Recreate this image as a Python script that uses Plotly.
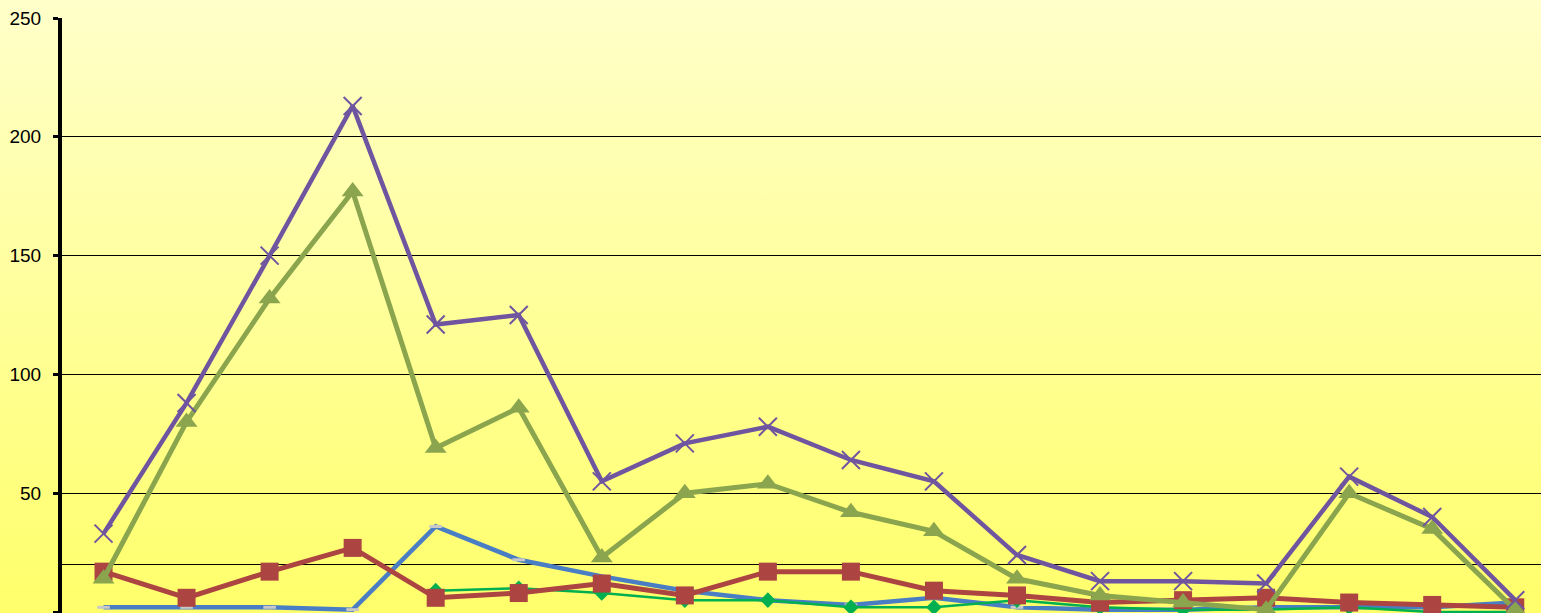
import base64
import plotly.graph_objects as go

categories = list(range(18))
blue = [2, 2, 2, 1, 36, 22, 15, 9, 5, 3, 6, 2, 1, 1, 2, 2, 2, 4]
red = [17, 6, 17, 27, 6, 8, 12, 7, 17, 17, 9, 7, 4, 5, 6, 4, 3, 2]
green = [14, 80, 132, 177, 69, 86, 23, 50, 54, 42, 34, 14, 7, 4, 1, 50, 35, 1]
purple = [33, 88, 150, 213, 121, 125, 55, 71, 78, 64, 55, 24, 13, 13, 12, 57, 40, 5]
dgreen = [None, None, None, None, 9, 10, 8, 5, 5, 2, 2, 5, 2, 1, 1, 2, 0, 0]
y_ticks = [0, 50, 100, 150, 200, 250]
ref_level = 20

svg = ('<svg xmlns="http://www.w3.org/2000/svg" width="100" height="100" preserveAspectRatio="none">'
       '<defs><linearGradient id="g" x1="0" y1="0" x2="0" y2="1">'
       '<stop offset="0" stop-color="#FFFFCC"/><stop offset="1" stop-color="#FFFF66"/>'
       '</linearGradient></defs><rect width="100" height="100" fill="url(#g)"/></svg>')
uri = "data:image/svg+xml;base64," + base64.b64encode(svg.encode()).decode()

fig = go.Figure()
fig.add_trace(go.Scatter(x=categories, y=blue, mode="lines+markers",
                         line=dict(color="#4A7EC4", width=4.5),
                         marker=dict(symbol="line-ew", size=9, line=dict(color="#C8C8C8", width=3))))
fig.add_trace(go.Scatter(x=categories, y=dgreen, mode="lines+markers",
                         line=dict(color="#00B050", width=2.5),
                         marker=dict(symbol="diamond", size=12, color="#00B050")))
fig.add_trace(go.Scatter(x=categories, y=red, mode="lines+markers",
                         line=dict(color="#AC4442", width=5),
                         marker=dict(symbol="square", size=18, color="#AC4442")))
fig.add_trace(go.Scatter(x=categories, y=green, mode="lines+markers",
                         line=dict(color="#8AA54E", width=5),
                         marker=dict(symbol="triangle-up", size=19, color="#8AA54E")))
fig.add_trace(go.Scatter(x=categories, y=purple, mode="lines+markers",
                         line=dict(color="#6F559F", width=4.5),
                         marker=dict(symbol="x-thin", size=18, line=dict(color="#6F559F", width=2))))

fig.add_shape(type="line", xref="paper", x0=0, x1=1, yref="y", y0=ref_level, y1=ref_level,
              line=dict(color="#000000", width=1), layer="below")

fig.add_layout_image(dict(source=uri, xref="paper", yref="paper", x=-0.05, y=1.05,
                          sizex=1.1, sizey=1.1, sizing="stretch", xanchor="left", yanchor="top",
                          layer="below"))

fig.update_layout(
    width=1541, height=613,
    margin=dict(l=62, r=0, t=18, b=0),
    paper_bgcolor="#FFFF99", plot_bgcolor="rgba(0,0,0,0)",
    showlegend=False,
    font=dict(family="Liberation Sans, Arial", size=19, color="#000000"),
    xaxis=dict(range=[-0.5, 17.31], showgrid=False, zeroline=False, showticklabels=False,
               showline=False, ticks=""),
    yaxis=dict(range=[-0.4, 250], tickvals=y_ticks, showgrid=True, gridcolor="#000000", gridwidth=1,
               zeroline=False, showline=True, linecolor="#000000", linewidth=4,
               ticks="outside", ticklen=5, tickwidth=3, tickcolor="#000000",
               ticklabelstandoff=8),
)
fig.write_html("out.html", config={"displayModeBar": False},
               post_script="document.body.style.margin='0';document.body.style.overflow='hidden';")
